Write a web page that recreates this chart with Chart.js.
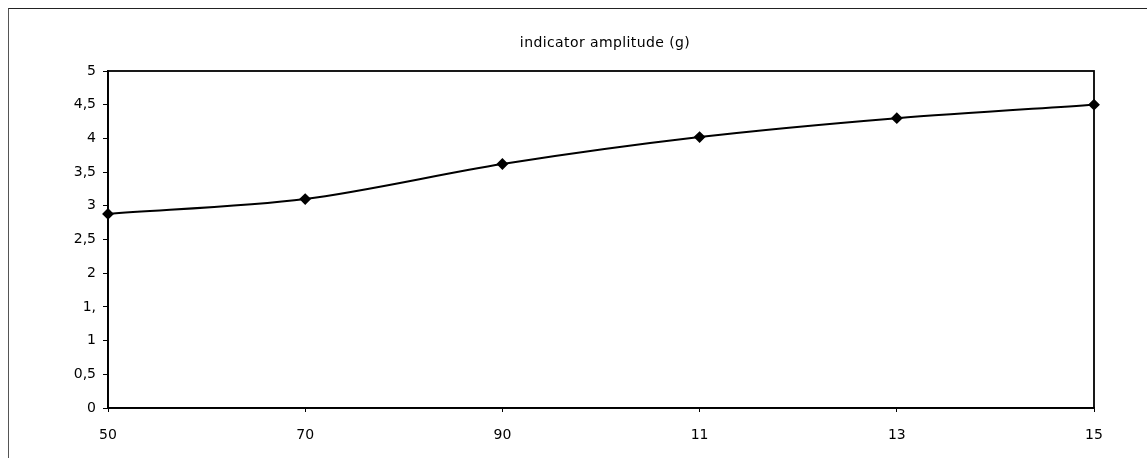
<!DOCTYPE html>
<html>
<head>
<meta charset="utf-8">
<script src="https://cdn.jsdelivr.net/npm/chart.js@4/dist/chart.umd.min.js"></script>
<style>
    html, body { margin: 0; padding: 0; background: #fff; }
    #wrap { position: relative; width: 1147px; height: 458px; }
    #frame { position: absolute; left: 8px; top: 8px; right: 0; bottom: 0;
             border-left: 1px solid #555; border-top: 1.5px solid #222; }
    canvas { position: absolute; left: 0; top: 0; }
</style>
</head>
<body>
<div id="wrap">
    <div id="frame"></div>
    <canvas id="myChart" width="1147" height="458"></canvas>
</div>
<script>
// values
var categories = ['50', '70', '90', '11', '13', '15'];
var amplitude = [2.88, 3.1, 3.62, 4.02, 4.3, 4.5];
var yTickLabels = ['0', '0,5', '1', '1,', '2', '2,5', '3', '3,5', '4', '4,5', '5'];
var chartTitle = 'indicator amplitude (g)';

var FONT = 'DejaVu Sans, Liberation Sans, sans-serif';

// box round the plot area + the title above it
var plotBox = {
    id: 'plotBox',
    afterDraw: function (chart) {
        var a = chart.chartArea, ctx = chart.ctx;
        ctx.save();
        ctx.strokeStyle = '#000';
        ctx.lineWidth = 1.8;
        ctx.strokeRect(a.left, a.top, a.right - a.left, a.bottom - a.top);

        ctx.fillStyle = '#000';
        ctx.font = '14px ' + FONT;
        ctx.letterSpacing = '0.4px';
        ctx.textAlign = 'center';
        ctx.textBaseline = 'middle';
        ctx.fillText(chartTitle, (a.left + a.right) / 2 + 4, 43);
        ctx.restore();
    }
};

new Chart(document.getElementById('myChart'), {
    type: 'line',
    data: {
        labels: categories,
        datasets: [{
            label: chartTitle,
            data: amplitude,
            borderColor: '#000',
            backgroundColor: '#000',
            borderWidth: 2,
            tension: 0.3,
            pointStyle: 'rectRot',
            pointRadius: 4.5,
            pointHoverRadius: 4.5,
            fill: false
        }]
    },
    options: {
        responsive: false,
        animation: false,
        layout: { padding: { left: 48, right: 53, top: 71, bottom: 0 } },
        plugins: {
            legend: { display: false },
            tooltip: { enabled: false },
            title: { display: false }
        },
        scales: {
            x: {
                offset: false,
                grid: { display: true, drawOnChartArea: false, tickLength: 4, color: '#000' },
                border: { color: '#000', width: 1.8 },
                ticks: {
                    color: '#000',
                    padding: 15,
                    font: { family: FONT, size: 14 }
                },
                afterFit: function (scale) { scale.height = 50; }
            },
            y: {
                min: 0,
                max: 5,
                grid: { display: true, drawOnChartArea: false, tickLength: 5, color: '#000' },
                border: { color: '#000', width: 1.8 },
                ticks: {
                    stepSize: 0.5,
                    color: '#000',
                    padding: 7,
                    font: { family: FONT, size: 14 },
                    callback: function (value, index) { return yTickLabels[index]; }
                },
                afterFit: function (scale) { scale.width = 60; }
            }
        }
    },
    plugins: [plotBox]
});
</script>
</body>
</html>
